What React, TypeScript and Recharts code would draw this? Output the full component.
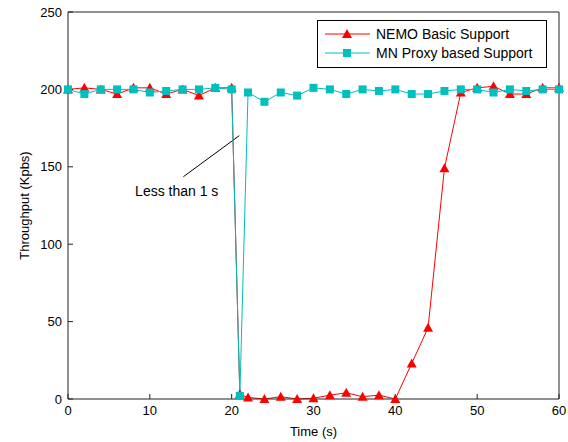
import { LineChart, Line, XAxis, YAxis, Legend, ReferenceLine, ReferenceDot } from "recharts";

// sample times (s) - one extra sample at 21 s where the handover happens
const times = [0, 2, 4, 6, 8, 10, 12, 14, 16, 18, 20, 21, 22, 24, 26, 28, 30, 32, 34, 36, 38, 40, 42, 44, 46, 48, 50, 52, 54, 56, 58, 60];

// throughput (Kpbs)
const nemoBasic = [200, 201, 200, 197, 201, 201, 197, 200, 196, 201, 201, 3, 1, 0, 1.5, 0, 0.5, 2.5, 4, 1.5, 2.5, 0, 23, 46, 149, 198, 201, 202, 197, 197, 201, 201];
const mnProxy = [200, 197, 200, 200, 200, 198, 199, 200, 200, 201, 200, 2, 198, 192, 198, 196, 201, 200, 197, 200, 199, 200, 197, 197, 199, 200, 200, 198, 200, 199, 200, 200];

const xTicks = [0, 10, 20, 30, 40, 50, 60];
const yTicks = [0, 50, 100, 150, 200, 250];
const seriesNames = ["NEMO Basic Support", "MN Proxy based Support"];

const RED = "#ff0000";
const CYAN = "#00bfbf";
const AXIS = "#222";
const FONT = '"Liberation Sans", Arial, Helvetica, sans-serif';

const data = times.map((t, i) => ({ t, nemo: nemoBasic[i], proxy: mnProxy[i] }));

function Triangle(props: any) {
    const { cx, cy, index } = props;
    if (cx == null || cy == null) return <g key={`t-${index}`} />;
    return <polygon key={`t-${index}`} points={`${cx},${cy - 5} ${cx - 5},${cy + 4} ${cx + 5},${cy + 4}`} fill={RED} />;
}

function Square(props: any) {
    const { cx, cy, index } = props;
    if (cx == null || cy == null) return <g key={`s-${index}`} />;
    return <rect key={`s-${index}`} x={cx - 4} y={cy - 4} width={8} height={8} fill={CYAN} />;
}

function LegendBox() {
    const rows = [
        { name: seriesNames[0], color: RED, tri: true },
        { name: seriesNames[1], color: CYAN, tri: false },
    ];
    return (
        <div style={{ position: "relative", width: 228, height: 46, border: "1px solid #000", background: "#fff", fontFamily: FONT, fontSize: 14, color: "#000" }}>
            {rows.map((r, i) => (
                <div key={r.name} style={{ position: "absolute", left: 0, top: i === 0 ? 4 : 23, height: 18, display: "flex", alignItems: "center", whiteSpace: "nowrap" }}>
                    <svg width={58} height={18}>
                        <line x1={7} x2={52} y1={9} y2={9} stroke={r.color} />
                        {r.tri ? (
                            <polygon points="29,4 24,13 34,13" fill={r.color} />
                        ) : (
                            <rect x={25} y={5} width={8} height={8} fill={r.color} />
                        )}
                    </svg>
                    <span>{r.name}</span>
                </div>
            ))}
        </div>
    );
}

export default function App() {
    const tickStyle = { fontSize: 13, fill: "#000", fontFamily: FONT };
    return (
        <div style={{ width: 568, height: 442, background: "#fff" }}>
            <style>{"body{margin:0;}"}</style>
            <LineChart width={568} height={442} data={data} margin={{ top: 11, right: 8, bottom: 0, left: 0 }} style={{ fontFamily: FONT }}>
                <XAxis
                    dataKey="t"
                    type="number"
                    domain={[0, 60]}
                    ticks={xTicks}
                    height={43}
                    stroke={AXIS}
                    tickSize={-5}
                    tickMargin={12}
                    tick={tickStyle}
                    label={{ value: "Time (s)", position: "insideBottom", offset: 6, style: { fontSize: 13, fill: "#000", fontFamily: FONT } }}
                />
                <XAxis xAxisId="top" orientation="top" type="number" domain={[0, 60]} ticks={xTicks} height={1} stroke={AXIS} tickSize={-5} tick={false} />
                <YAxis
                    type="number"
                    domain={[0, 250]}
                    ticks={yTicks}
                    width={68}
                    stroke={AXIS}
                    tickSize={-5}
                    tickMargin={11}
                    tick={tickStyle}
                    label={{ value: "Throughput (Kpbs)", angle: -90, position: "insideLeft", offset: 24, style: { textAnchor: "middle", fontSize: 13, fill: "#000", fontFamily: FONT } }}
                />
                <YAxis yAxisId="r" orientation="right" type="number" domain={[0, 250]} ticks={yTicks} width={1} stroke={AXIS} tickSize={-5} tick={false} />
                <Legend layout="vertical" align="center" verticalAlign="middle" wrapperStyle={{ left: 317, top: 20, width: 230, height: 48 }} content={() => <LegendBox />} />
                <ReferenceLine segment={[{ x: 14.1, y: 143.6 }, { x: 20.93, y: 170.1 }]} stroke="#000" strokeWidth={1} />
                <ReferenceDot x={8.2} y={134.4} r={0} stroke="none" fill="none" label={{ value: "Less than 1 s", position: "right", offset: 0, style: { fontSize: 14, fill: "#000", fontFamily: FONT } }} />
                <Line dataKey="nemo" name={seriesNames[0]} stroke={RED} strokeWidth={1} dot={Triangle} activeDot={false} isAnimationActive={false} />
                <Line dataKey="proxy" name={seriesNames[1]} stroke={CYAN} strokeWidth={1} dot={Square} activeDot={false} isAnimationActive={false} />
            </LineChart>
        </div>
    );
}
